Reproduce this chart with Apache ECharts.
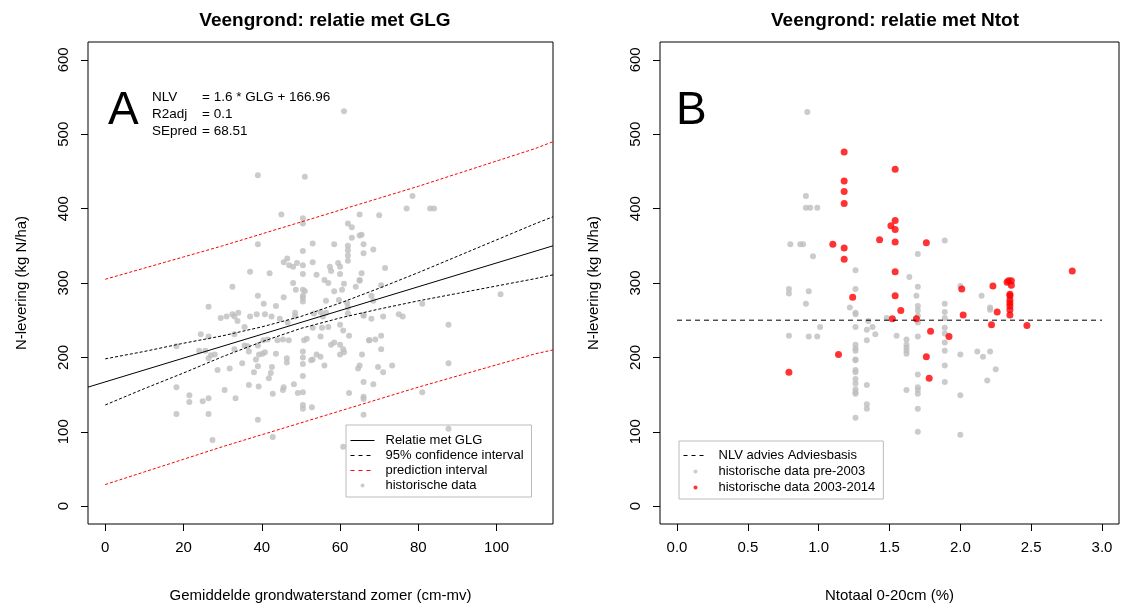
<!DOCTYPE html>
<html>
<head>
<meta charset="utf-8">
<title>Veengrond</title>
<script src="https://cdn.jsdelivr.net/npm/echarts@6/dist/echarts.min.js"></script>
<style>
    html, body { margin: 0; padding: 0; background: #fff; }
    #main { width: 1123px; height: 608px; }
</style>
</head>
<body>
<div id="main"></div>
<script>
// tick labels
var glgTicks = [0, 20, 40, 60, 80, 100];
var ntotTicks = [0, 0.5, 1, 1.5, 2, 2.5, 3];
var nlvTicks = [0, 100, 200, 300, 400, 500, 600];

// paneel A: historische data (GLG, N-levering)
var histGlg = [61, 39, 51, 45, 50.5, 50.5, 78.5, 77, 83, 84, 65, 70, 65.5, 66, 66, 68.5, 71.5, 65.5, 70.5, 101, 65,
    62, 63, 65, 63, 39, 53, 58.5, 62, 62, 62, 62, 50.5, 46.5, 45.6, 47, 48, 49, 50.5, 53, 57.4, 57.7, 59.5, 60, 60, 54, 50.5, 37, 42,
    32.5, 48, 48.7, 50.5, 51, 56, 57, 58.5, 61, 60.5, 65, 39, 45.6, 50.5, 50.5, 50.5, 64, 40.5, 43.6, 56.4, 59.7, 61.8,
    26.4, 29.5, 31, 32.5, 33, 34, 33.8, 37, 38.7, 40.8, 42.5, 44.6, 46.6, 48.5, 48.5, 53.3, 55, 56.4, 55.6, 53, 55.4, 57, 60, 60.8,
    62, 62, 66, 35.6, 33, 35.6, 24.4, 26.4, 18.2, 24, 25.6, 27, 28, 26.4, 28.7, 31.8, 33, 36.4, 36.7, 35, 38, 39, 38.5, 39.3, 40.2,
    40.8, 39, 40.4, 41.5, 42.6, 42.3, 41.8, 43.6, 44, 45.4, 46.9, 46.4, 46.4, 45.6, 45.4, 48.2, 49.2, 50.5, 50.5, 50.5, 50.5, 50.5,
    50.8, 51.5, 53, 52.6, 54, 55, 56, 55, 57.7, 58.5, 60, 60.8, 60, 61, 62.3, 65, 64.6, 65.6, 67.4, 66, 62.3, 66, 50.5, 50.5, 52.8,
    24.9, 21.5, 21.5, 26.4, 18.2, 18.2, 26.4, 30.5, 33.3, 36.7, 39.2, 42.8, 39, 42.8, 27.4, 60.8, 66,
    81, 68, 68.5, 66, 68, 71, 75, 76, 87.7, 67.5, 69, 70.5, 70.5, 69.7, 71, 73.3, 87.7, 68.5, 66, 81, 87.7];
var histNlv = [531, 445, 443, 392, 387, 380, 417, 400, 400, 400, 392, 391, 365, 352, 340, 345, 320, 313, 297, 285, 303,
    380, 375, 364, 361, 352, 353, 352, 350, 344, 337, 330, 343, 333, 328, 324, 322, 327, 324, 328, 322, 316, 327, 322, 312, 311, 312, 315, 313,
    295, 300, 291, 291, 289, 304, 300, 289, 299, 291, 304, 283, 281, 283, 280, 275, 295, 272, 269, 276, 277, 273,
    268, 253, 255, 258, 255, 260, 249, 255, 258, 258, 255, 252, 247, 260, 255, 259, 261, 260, 255, 240, 240, 241, 244, 236,
    267, 259, 256, 241, 231, 216, 231, 228, 215, 209, 209, 203, 204, 199, 183, 185, 211, 215, 208, 192, 180, 188, 197, 204, 205,
    207, 216, 223, 224, 187, 179, 172, 205, 223, 224, 223, 199, 193, 160, 156, 164, 152, 153, 175, 208, 200, 191,
    223, 225, 197, 196, 204, 201, 189, 228, 217, 220, 217, 211, 204, 207, 229, 189, 185, 204, 223, 167, 152, 147, 136, 131, 133,
    141, 149, 140, 145, 160, 124, 124, 156, 145, 163, 161, 151, 116, 93, 89, 80, 123,
    272, 283, 276, 257, 252, 255, 258, 255, 244, 223, 224, 229, 211, 187, 180, 189, 192, 164, 144, 153, 104];

var fitGlg = [-4.4, 114.4];
var fitNlv = [160, 350];
var bandGlg = [0, 10, 20, 30, 40, 50, 60, 70, 80, 90, 100, 110, 114.4];
var ciUpper = [198, 208, 219, 229, 241, 255, 273, 293, 314, 336, 358, 380, 389];
var ciLower = [136, 158, 179, 201, 221, 239, 253, 265, 276, 286, 296, 306, 311];
var piUpper = [305, 320, 335, 350, 366, 382, 398, 414, 430, 447, 464, 481, 490];
var piLower = [29, 46, 63, 80, 96, 112, 128, 144, 160, 175, 190, 205, 210];

// paneel B: historische data pre-2003 (Ntot, N-levering)
var preNtot = [0.92, 0.91, 0.91, 0.94, 0.99, 0.80, 0.87, 0.89, 0.96, 1.26, 1.26, 0.79, 0.79, 0.93, 1.64, 1.70, 1.69, 1.89,
    0.91, 1.22, 1.26, 1.26, 1.35, 1.48, 1.70, 1.70, 1.70, 1.70, 1.70, 1.89, 1.89, 1.89, 1.89, 1.89, 1.01, 1.26, 1.34, 1.38,
    0.79, 0.93, 0.99, 1.40, 1.55, 1.70, 1.34, 1.62, 1.62, 1.62, 1.62, 1.62, 1.26, 1.26, 1.26, 1.26, 1.26, 1.26, 1.26, 1.26,
    1.26, 1.26, 1.26, 1.26, 1.89, 1.89, 1.89, 1.89, 1.70, 1.70, 1.70, 1.70, 1.70, 1.70, 1.62, 1.34, 1.34, 1.34, 1.26,
    2.00, 2.15, 2.21, 2.21, 2.00, 2.12, 2.16, 2.21, 2.25, 2.19, 2.00, 2.00];
var preNlv = [530, 417, 401, 401, 401, 352, 352, 352, 336, 317, 292, 292, 286, 289, 308, 339, 283, 357,
    272, 267, 260, 258, 249, 253, 295, 269, 263, 256, 247, 272, 261, 253, 240, 232, 241, 241, 237, 241,
    229, 228, 228, 231, 229, 228, 223, 224, 217, 213, 209, 205, 217, 212, 209, 197, 196, 183, 180, 171,
    165, 157, 153, 151, 220, 209, 189, 167, 177, 160, 156, 151, 131, 100, 156, 163, 137, 131, 119,
    296, 283, 267, 264, 204, 208, 201, 208, 184, 169, 149, 96];

// paneel B: historische data 2003-2014
var recentNtot = [1.18, 1.54, 1.18, 1.18, 1.18, 1.54, 1.51, 1.54, 1.10, 1.18, 1.18, 1.43, 1.54, 1.76, 1.54, 1.54, 1.24,
    1.58, 1.52, 1.69, 1.79, 1.92, 1.14, 1.76, 1.78, 0.79,
    2.79, 2.23, 2.01, 2.33, 2.34, 2.36, 2.36, 2.35, 2.35, 2.35, 2.35, 2.35, 2.35, 2.35, 2.02, 2.26, 2.22, 2.47];
var recentNlv = [476, 453, 437, 423, 407, 384, 377, 372, 352, 347, 332, 358, 355, 354, 315, 283, 281,
    263, 252, 252, 235, 228, 204, 201, 172, 180,
    316, 296, 292, 301, 303, 303, 297, 285, 283, 277, 273, 269, 264, 257, 257, 261, 244, 243];

// NLV advies Adviesbasis
var adviesNtot = [0, 3];
var adviesNlv = [250, 250];

var FONT = "'Liberation Sans', Arial, sans-serif";
var GREY = '#bebebe';

function pairs(xs, ys) {
    var out = [];
    for (var i = 0; i < xs.length; i++) out.push([xs[i], ys[i]]);
    return out;
}

function xAxisOf(grid, min, max, ticks, name, fmt) {
    return {
        type: 'value', gridIndex: grid, min: min, max: max,
        splitLine: {show: false},
        axisLine: {show: false, onZero: false},
        axisTick: {show: true, inside: false, length: 7, customValues: ticks, lineStyle: {color: '#000'}},
        axisLabel: {customValues: ticks, margin: 16, fontSize: 15, color: '#000', fontFamily: FONT, formatter: fmt},
        name: name, nameLocation: 'middle', nameGap: 64,
        nameTextStyle: {fontSize: 15, color: '#000', fontFamily: FONT}
    };
}

function yAxisOf(grid) {
    return {
        type: 'value', gridIndex: grid, min: -24, max: 624,
        splitLine: {show: false},
        axisLine: {show: false, onZero: false},
        axisTick: {show: true, inside: false, length: 7, customValues: nlvTicks, lineStyle: {color: '#000'}},
        axisLabel: {customValues: nlvTicks, rotate: 90, margin: 17, fontSize: 15, color: '#000', fontFamily: FONT},
        name: 'N-levering (kg N/ha)', nameLocation: 'middle', nameGap: 59,
        nameTextStyle: {fontSize: 15, color: '#000', fontFamily: FONT}
    };
}

function lineSerie(name, xs, ys, color, dash, width) {
    return {
        name: name, type: 'line', xAxisIndex: 0, yAxisIndex: 0,
        data: pairs(xs, ys), symbol: 'none', z: 5, silent: true,
        lineStyle: {color: color, width: width || 1, type: dash || 'solid'},
        itemStyle: {color: color}
    };
}

// legend-item voor een lijn: alleen lijn, geen symbool
function lineItem(name, dash) {
    return {name: name, itemStyle: {opacity: 0}, lineStyle: {width: 1, type: dash || 'solid'}};
}

var chart = echarts.init(document.getElementById('main'), null, {renderer: 'canvas'});

var option = {
    animation: false,
    backgroundColor: '#fff',
    textStyle: {fontFamily: FONT},
    title: [
        {text: 'Veengrond: relatie met GLG', left: 320, textAlign: 'center', top: 6,
            textStyle: {fontSize: 19, fontWeight: 'bold', color: '#000', fontFamily: FONT}},
        {text: 'Veengrond: relatie met Ntot', left: 890, textAlign: 'center', top: 6,
            textStyle: {fontSize: 19, fontWeight: 'bold', color: '#000', fontFamily: FONT}}
    ],
    grid: [
        {left: 88, right: 570, top: 42, bottom: 80, show: true, borderColor: '#000', borderWidth: 1, backgroundColor: 'transparent'},
        {left: 660, right: 4, top: 42, bottom: 80, show: true, borderColor: '#000', borderWidth: 1, backgroundColor: 'transparent'}
    ],
    xAxis: [
        xAxisOf(0, -4.4, 114.4, glgTicks, 'Gemiddelde grondwaterstand zomer (cm-mv)'),
        xAxisOf(1, -0.12, 3.12, ntotTicks, 'Ntotaal 0-20cm (%)', function(v) { return v.toFixed(1); })
    ],
    yAxis: [yAxisOf(0), yAxisOf(1)],
    legend: [
        {
            orient: 'vertical', left: 346, top: 425,
            padding: [9, 8, 5, 4], itemGap: 2, itemWidth: 24, itemHeight: 4,
            borderColor: '#bbb', borderWidth: 1, selectedMode: false,
            textStyle: {fontSize: 13, color: '#000', fontFamily: FONT, padding: [0, 0, 0, 6]},
            data: [lineItem('Relatie met GLG'), lineItem('95% confidence interval', [4, 4]),
                lineItem('prediction interval', [4, 4]),
                {name: 'historische data', icon: 'circle'}]
        },
        {
            orient: 'vertical', left: 679, top: 441,
            padding: [8, 8, 5, 4], itemGap: 3, itemWidth: 24, itemHeight: 4,
            borderColor: '#bbb', borderWidth: 1, selectedMode: false,
            textStyle: {fontSize: 13, color: '#000', fontFamily: FONT, padding: [0, 0, 0, 6]},
            data: [lineItem('NLV advies Adviesbasis', [4, 4]),
                {name: 'historische data pre-2003', icon: 'circle'},
                {name: 'historische data 2003-2014', icon: 'circle'}]
        }
    ],
    graphic: [
        {type: 'text', left: 108, top: 88, style: {text: 'A', font: '46px ' + FONT, fill: '#000'}},
        {type: 'text', left: 676, top: 88, style: {text: 'B', font: '46px ' + FONT, fill: '#000'}},
        {type: 'text', left: 152, top: 89, style: {text: 'NLV\nR2adj\nSEpred', font: '13.5px ' + FONT, fill: '#000', lineHeight: 17}},
        {type: 'text', left: 202, top: 89, style: {text: '= 1.6 * GLG + 166.96\n= 0.1\n= 68.51', font: '13.5px ' + FONT, fill: '#000', lineHeight: 17}}
    ],
    series: [
        {
            name: 'historische data', type: 'scatter', xAxisIndex: 0, yAxisIndex: 0,
            data: pairs(histGlg, histNlv), symbolSize: 6, z: 2, silent: true,
            itemStyle: {color: GREY}
        },
        lineSerie('Relatie met GLG', fitGlg, fitNlv, '#000', 'solid', 1),
        lineSerie('95% confidence interval', bandGlg, ciUpper, '#000', [3, 2], 1),
        lineSerie('95% confidence interval', bandGlg, ciLower, '#000', [3, 2], 1),
        lineSerie('prediction interval', bandGlg, piUpper, '#ff0000', [3, 2], 1),
        lineSerie('prediction interval', bandGlg, piLower, '#ff0000', [3, 2], 1),
        {
            name: 'historische data pre-2003', type: 'scatter', xAxisIndex: 1, yAxisIndex: 1,
            data: pairs(preNtot, preNlv), symbolSize: 6, z: 2, silent: true,
            itemStyle: {color: GREY}
        },
        {
            name: 'historische data 2003-2014', type: 'scatter', xAxisIndex: 1, yAxisIndex: 1,
            data: pairs(recentNtot, recentNlv), symbolSize: 7, z: 3, silent: true,
            itemStyle: {color: '#ff0000'}
        },
        {
            name: 'NLV advies Adviesbasis', type: 'line', xAxisIndex: 1, yAxisIndex: 1,
            data: pairs(adviesNtot, adviesNlv), symbol: 'none', z: 5, silent: true,
            lineStyle: {color: '#000', width: 1, type: [5, 4]},
            itemStyle: {color: '#000'}
        }
    ]
};

chart.setOption(option);
</script>
</body>
</html>
